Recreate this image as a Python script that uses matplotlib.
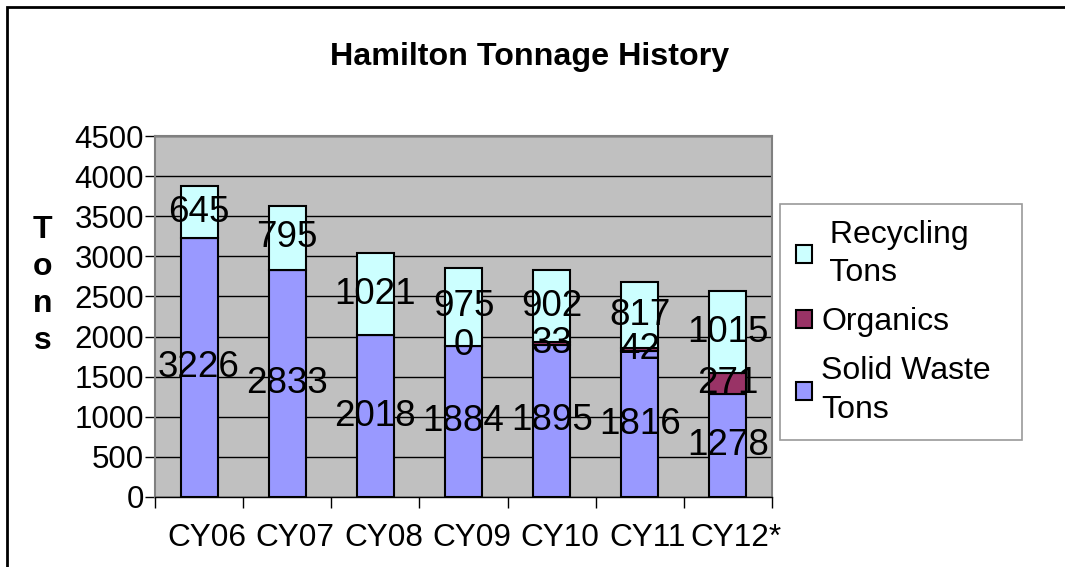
import numpy as np
import matplotlib
matplotlib.use("Agg")
import matplotlib.pyplot as plt
import matplotlib.transforms as mtransforms
from matplotlib.patches import Rectangle

plt.rcParams['font.family'] = ['Liberation Sans', 'DejaVu Sans']

years = ["CY06", "CY07", "CY08", "CY09", "CY10", "CY11", "CY12*"]
solid = [3226, 2833, 2018, 1884, 1895, 1816, 1278]
organics = [np.nan, np.nan, np.nan, 0, 33, 42, 271]
recycling = [645, 795, 1021, 975, 902, 817, 1015]

c_solid = "#9999FF"
c_org = "#993366"
c_rec = "#CCFFFF"

fig = plt.figure(figsize=(10.65, 5.67), dpi=100)
ax = fig.add_axes([0.1455, 0.1235, 0.5794, 0.6366])
ax.set_facecolor("#C0C0C0")

x = np.arange(len(years))
org0 = np.nan_to_num(np.array(organics, dtype=float))
solid = np.array(solid, dtype=float)
w = 0.42

b1 = ax.bar(x, solid, w, color=c_solid, edgecolor="black", linewidth=1.5, zorder=3,
            label="Solid Waste\nTons")
b2 = ax.bar(x, org0, w, bottom=solid, color=c_org, edgecolor="black", linewidth=1.5,
            zorder=3, label="Organics")
b3 = ax.bar(x, recycling, w, bottom=solid + org0, color=c_rec, edgecolor="black",
            linewidth=1.5, zorder=3, label=" Recycling\n Tons")

lab = dict(fontsize=26.5, ha="center", va="center", zorder=5)
for i in range(len(years)):
    ax.text(x[i], solid[i] / 2, str(int(solid[i])), **lab)
    if not np.isnan(organics[i]):
        ax.text(x[i], solid[i] + org0[i] / 2, str(int(organics[i])), **lab)
    ax.text(x[i], solid[i] + org0[i] + recycling[i] / 2, str(recycling[i]), **lab)

ax.set_ylim(0, 4500)
ax.set_xlim(-0.5, len(years) - 0.5)
ax.set_yticks(np.arange(0, 4501, 500))
ax.yaxis.grid(True, color="black", linewidth=1)
ax.set_axisbelow(True)
ax.tick_params(axis="y", labelsize=22.5, length=7, width=1, direction="out", pad=1)

ax.set_xticks(x)
ax.set_xticklabels(years)
ax.tick_params(axis="x", which="major", length=0, labelsize=22.7, pad=19)
ax.set_xticks(np.arange(-0.5, len(years), 1), minor=True)
ax.tick_params(axis="x", which="minor", length=8, width=1, direction="out")
shift = mtransforms.ScaledTranslation(8 / 100, 0, fig.dpi_scale_trans)
for t in ax.get_xticklabels():
    t.set_transform(t.get_transform() + shift)

for s in ["top", "right", "left"]:
    ax.spines[s].set_color("#808080")
    ax.spines[s].set_linewidth(1.5)
ax.spines["bottom"].set_color("black")
ax.spines["bottom"].set_linewidth(1)

fig.text(0.497, 0.900, "Hamilton Tonnage History", fontsize=23.2, fontweight="bold",
         ha="center", va="center")
fig.text(0.040, 0.497, "T\no\nn\ns", fontsize=23, fontweight="bold", ha="center",
         va="center", linespacing=1.3)

leg = fig.legend(handles=[b3, b2, b1], loc="upper left",
                 bbox_to_anchor=(0.732, 0.224, 0.228, 0.416), mode="expand",
                 fontsize=23, frameon=True, fancybox=False, handlelength=0.5,
                 handleheight=0.5, handletextpad=0.3, labelspacing=0.6,
                 borderpad=0.5, borderaxespad=0)
for t in leg.get_texts():
    t.set_linespacing(1.35)
leg.get_frame().set_edgecolor("#808080")
leg.get_frame().set_linewidth(1.2)

fig.add_artist(Rectangle((7 / 1065, -0.2), 1.5, 1.2 - 7 / 567, transform=fig.transFigure,
                         fill=False, edgecolor="black", linewidth=2))

fig.savefig("out.png", dpi=100)
